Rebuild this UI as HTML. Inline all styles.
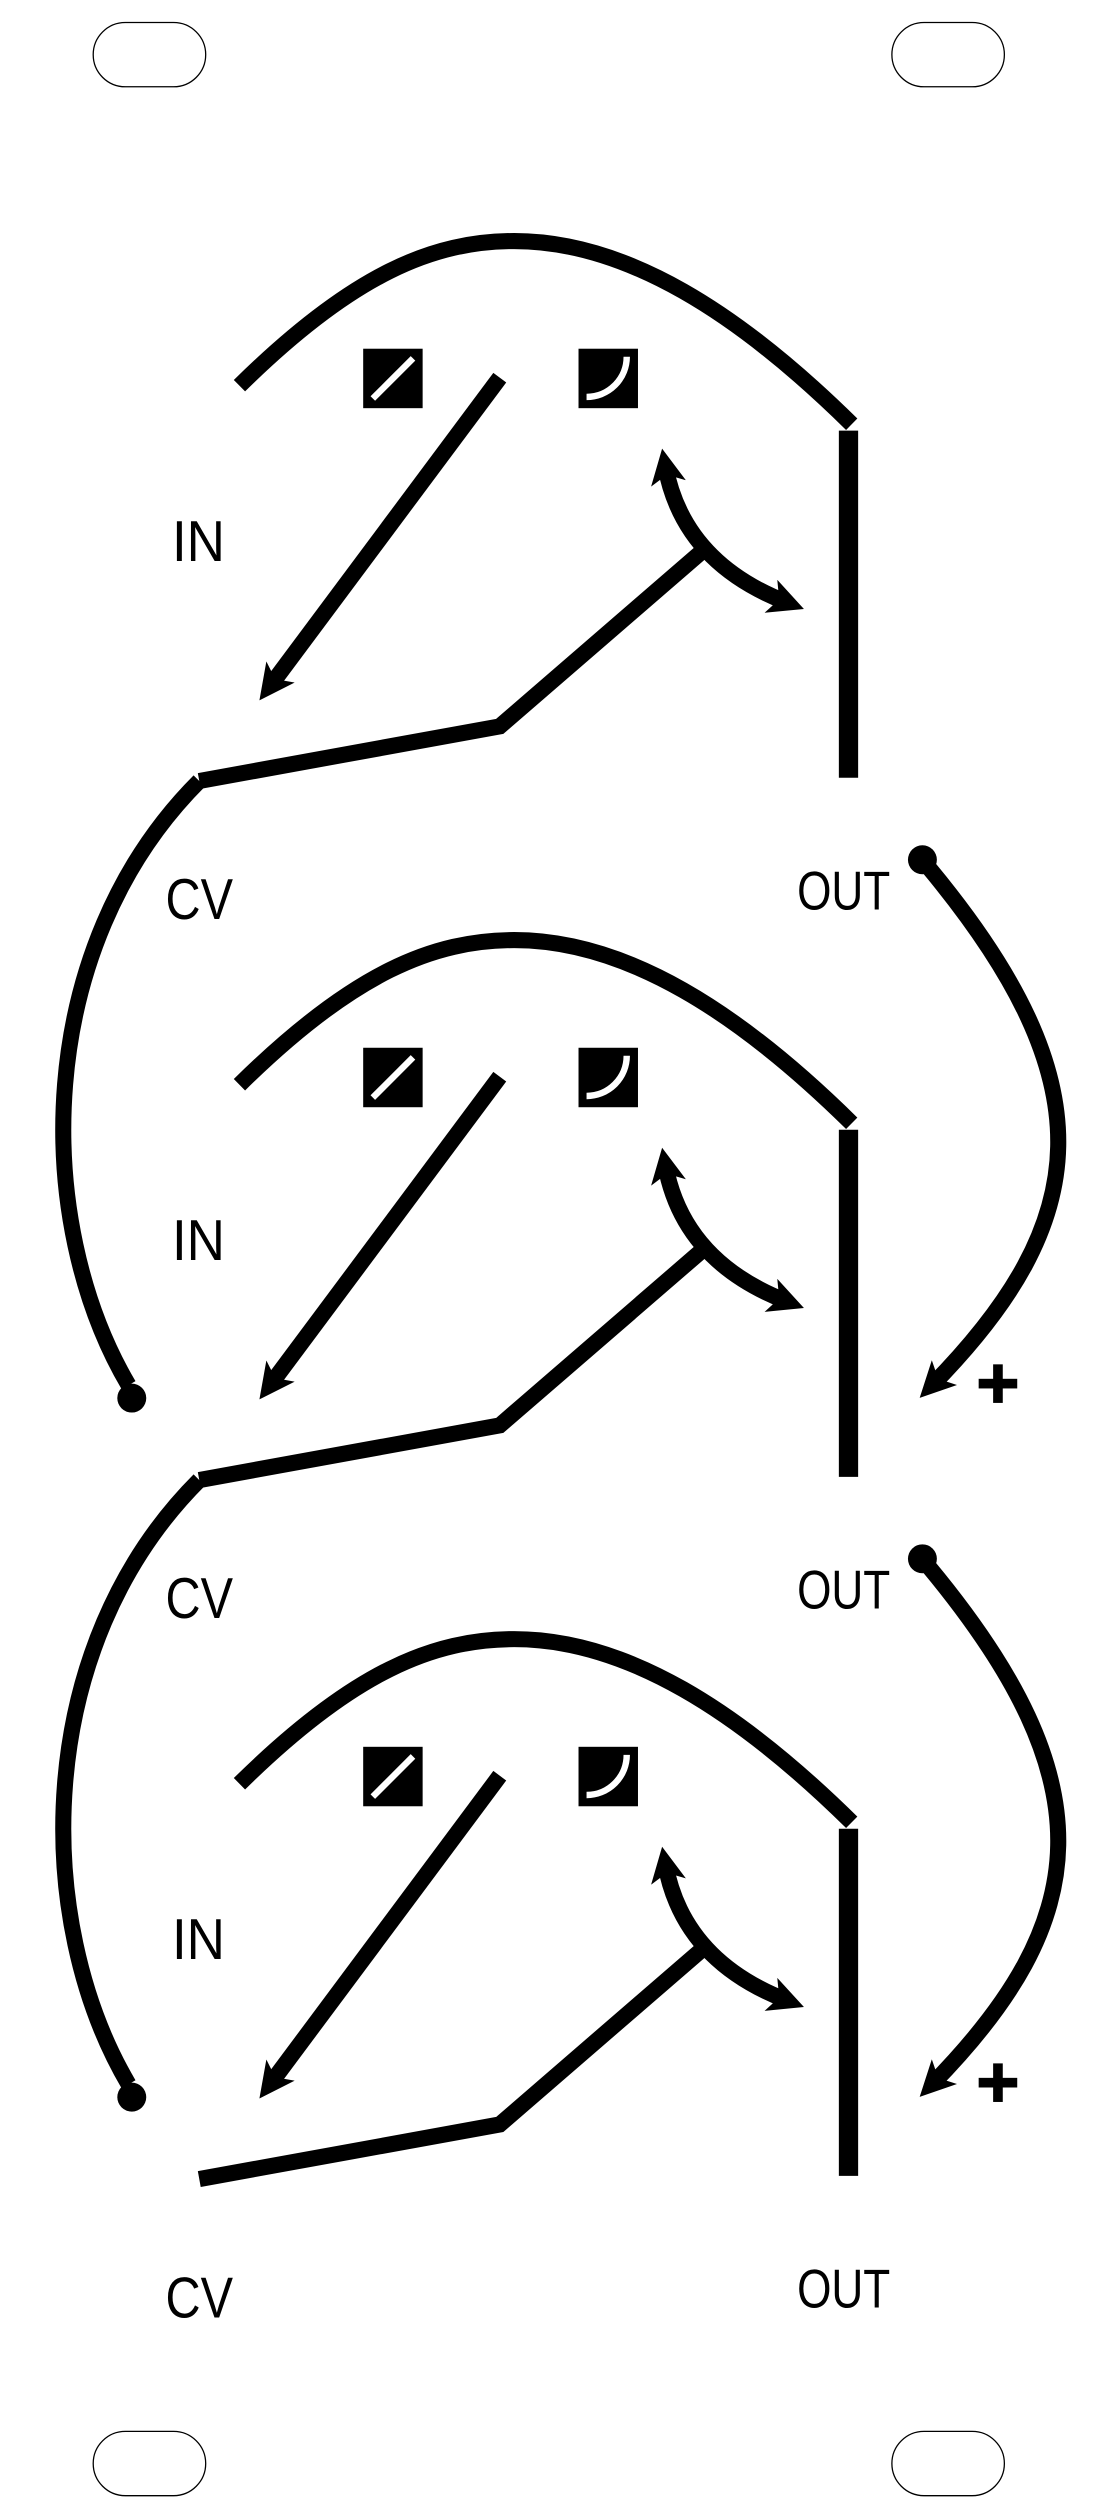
<!DOCTYPE html>
<html><head><meta charset="utf-8"><style>
html,body{margin:0;padding:0;background:#fff;}
svg{display:block;}
text{font-family:"Liberation Sans",sans-serif;fill:#000;}
</style></head><body>
<svg width="1100" height="2520" viewBox="0 0 1100 2520">
<defs>
<marker id="ah" viewBox="0 0 10 10" refX="5" refY="5" markerWidth="2.2" markerHeight="2.2" markerUnits="strokeWidth" orient="auto-start-reverse">
<path d="M0,0 L10,5 L0,10 L2.5,5 Z" fill="#000"/>
</marker>
</defs>
<g transform="scale(1.607)">
<rect x="58" y="14" width="70" height="40" rx="20" fill="none" stroke="#000" stroke-width="0.8"/>
<rect x="555" y="14" width="70" height="40" rx="20" fill="none" stroke="#000" stroke-width="0.8"/>
<rect x="58" y="1513" width="70" height="40" rx="20" fill="none" stroke="#000" stroke-width="0.8"/>
<rect x="555" y="1513" width="70" height="40" rx="20" fill="none" stroke="#000" stroke-width="0.8"/>

<g id="mod" fill="none" stroke="#000" stroke-width="10">
<path d="M149,240 C220,170 270,150 320,150 C390,150 460,195 530,264"/>
<line x1="528" y1="268" x2="528" y2="484" stroke-width="12"/>
<rect x="226" y="217" width="37" height="37" fill="#000" stroke="none"/>
<line x1="232" y1="248" x2="257" y2="223" stroke="#fff" stroke-width="4"/>
<rect x="360" y="217" width="37" height="37" fill="#000" stroke="none"/>
<path d="M365,247 A25,25 0 0 0 390,222" stroke="#fff" stroke-width="4"/>
<line x1="311" y1="235" x2="168" y2="427" marker-end="url(#ah)"/>
<path d="M414,290 Q425,350 490,375" marker-start="url(#ah)" marker-end="url(#ah)"/>
<polyline points="437,343 311,452 124,486"/>
<text x="107" y="349" font-size="36" stroke="none" fill="#000" textLength="33" lengthAdjust="spacingAndGlyphs">IN</text>
<text x="103" y="572" font-size="36" stroke="none" fill="#000" textLength="42" lengthAdjust="spacingAndGlyphs">CV</text>
<text x="496" y="566" font-size="34" stroke="none" fill="#000" textLength="58" lengthAdjust="spacingAndGlyphs">OUT</text>
</g>
<g transform="translate(0,435)"><use href="#mod"/></g>
<g transform="translate(0,870)"><use href="#mod"/></g>

<g fill="none" stroke="#000" stroke-width="10">
<path d="M124,486 C20,590 20,760 80,862"/>
<path d="M124,921 C20,1025 20,1195 80,1297"/>
<path d="M578,540 C690,675 680,760 580,862" marker-end="url(#ah)"/>
<path d="M578,975 C690,1110 680,1195 580,1297" marker-end="url(#ah)"/>
</g>
<circle cx="82" cy="870" r="9" fill="#000"/>
<circle cx="82" cy="1305" r="9" fill="#000"/>
<circle cx="574" cy="535" r="9" fill="#000"/>
<circle cx="574" cy="970" r="9" fill="#000"/>
<g fill="#000"><rect x="609" y="858" width="24" height="6"/><rect x="618" y="849" width="6" height="24"/></g>
<g fill="#000"><rect x="609" y="1293" width="24" height="6"/><rect x="618" y="1284" width="6" height="24"/></g>
</g>
</svg>
</body></html>
